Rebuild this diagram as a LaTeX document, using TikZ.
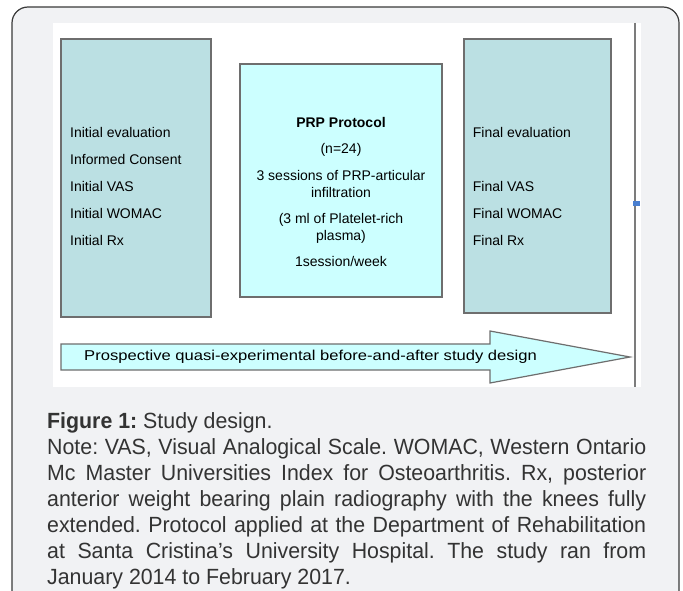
\documentclass[tikz,border=0pt]{standalone}
\usepackage{fontspec}
\setmainfont{Liberation Sans}
\definecolor{panelgrey}{HTML}{F1F2F4}
\definecolor{evalteal}{HTML}{BBE0E3}
\definecolor{prpcyan}{HTML}{CCFFFF}
\definecolor{edgegrey}{HTML}{6E6E6E}
\definecolor{framegrey}{HTML}{3A3A3A}
\definecolor{captiongrey}{HTML}{333333}
\definecolor{handleblue}{HTML}{4A7FD0}
\frenchspacing
\begin{document}
\begin{tikzpicture}[x=1pt,y=-1pt,
	evalbox/.style={draw=edgegrey,line width=1.2pt,fill=evalteal,inner sep=0pt},
	protobox/.style={draw=edgegrey,line width=1.2pt,fill=prpcyan,inner sep=0pt},
	itemtext/.style={font=\fontsize{14}{27}\selectfont,text=black,inner sep=0pt},
	]
	\useasboundingbox (0,0) rectangle (683,591);
	\draw[framegrey,fill=panelgrey,line width=1.2pt,rounded corners=16pt] (12,7) rectangle (679,606);
	\fill[white] (53,23) rectangle (641,387);
	\draw[edgegrey!90,line width=1.3pt] (635,23) -- (635,387);
	\fill[handleblue] (633,201) rectangle (640,206);
	\node[evalbox,minimum width=150pt,minimum height=278pt] (initbox) at (136,178) {};
	\node[evalbox,minimum width=147pt,minimum height=274pt] (finalbox) at (537.5,176) {};
	\node[protobox,minimum width=202pt,minimum height=233pt] (prpbox) at (341,180.5) {};
	\node[itemtext,align=left,anchor=north west] (inittext) at (70,126.7) {Initial evaluation\\Informed Consent\\Initial VAS\\Initial WOMAC\\Initial Rx};
	\node[itemtext,align=left,anchor=north west] (finaltext) at (472.7,126.7) {Final evaluation\\\mbox{}\\Final VAS\\Final WOMAC\\Final Rx};
	\node[itemtext,font=\fontsize{14}{16.8}\selectfont,align=center,anchor=north] (prptext) at (341,116.7) {\textbf{PRP Protocol}\\[10pt](n=24)\\[10pt]3 sessions of PRP-articular\\infiltration\\[9pt](3 ml of Platelet-rich\\plasma)\\[10pt]1session/week};
	\coordinate (arrowtip) at (630,357);
	\filldraw[draw=edgegrey,fill=prpcyan,line width=1.2pt,line join=miter] (61,344) -- (490,344) -- (490,331) -- (arrowtip) -- (490,383) -- (490,370) -- (61,370) -- cycle;
	\node[itemtext,font=\fontsize{14.3}{17}\selectfont\addfontfeature{FakeStretch=1.16},anchor=base west] (studylabel) at (84,360.7) {Prospective quasi-experimental before-and-after study design};
	\node[inner sep=0pt,anchor=north west,text width=599pt,align=justify,text=captiongrey,font=\fontsize{22}{26}\selectfont\addfontfeature{FakeStretch=0.97}] (caption) at (47,412.5) {\noindent\textbf{Figure 1:} Study design.\\Note: VAS, Visual Analogical Scale. WOMAC, Western Ontario\linebreak Mc Master Universities Index for Osteoarthritis. Rx, posterior\linebreak anterior weight bearing plain radiography with the knees fully\linebreak extended. Protocol applied at the Department of Rehabilitation\linebreak at Santa Cristina’s University Hospital. The study ran from\linebreak January 2014 to February 2017.};
\end{tikzpicture}
\end{document}
